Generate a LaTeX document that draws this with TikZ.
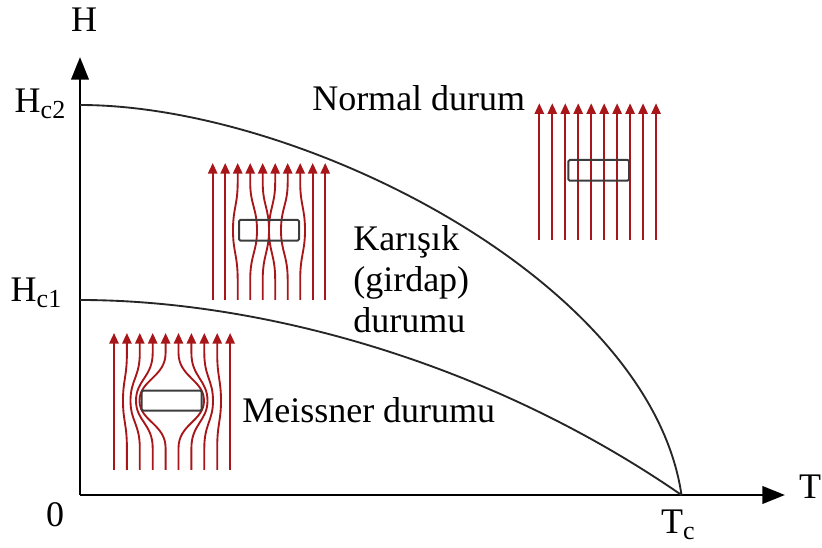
\documentclass[tikz,border=0pt]{standalone}
\usepackage{fontspec}
\setmainfont{Liberation Serif}
\usetikzlibrary{arrows.meta}
\definecolor{fluxred}{RGB}{168,22,26}
\definecolor{boxgray}{RGB}{60,60,60}
\newcommand\lowsub[1]{\raisebox{-0.35ex}{\fontsize{19.5}{19.5}\selectfont #1}}
\begin{document}
\begin{tikzpicture}[x=0.75pt,y=-0.75pt,
  lbl/.style={inner sep=0pt,font=\fontsize{27}{31}\selectfont},
  axis/.style={line width=2.2pt,black,-{Triangle[length=17pt,width=13pt]}},
  phase/.style={line width=1.4pt,black!85},
  flux/.style={line width=1.4pt,fluxred,-{Triangle[length=8pt,width=7pt]}},
  sample/.style={line width=1.5pt,boxgray,rounded corners=1pt}]
\useasboundingbox (0,0) rectangle (822,548);

% axes
\coordinate (O) at (80,495);
\coordinate (Ytip) at (80,57);
\coordinate (Xtip) at (785,495);
\coordinate (Tc) at (681.5,495);
\coordinate (Hctwo) at (80,105);
\coordinate (Hcone) at (80,300);
\draw[axis] (O) -- (Ytip);
\draw[axis] (O) -- (Xtip);

% phase boundaries Hc2(T) and Hc1(T)
\draw[phase] (Hctwo) .. controls (300,105) and (650,280) .. (Tc);
\draw[phase] (Hcone) .. controls (250,300) and (480,356) .. (Tc);

% axis labels
\node[lbl] (lH) at (84,20) {H};
\node[lbl] (lT) at (810,487) {T};
\node[lbl] (lzero) at (55,515) {0};
\node[lbl] (lHc2) at (40,104) {H\lowsub{c2}};
\node[lbl] (lHc1) at (36,293) {H\lowsub{c1}};
\node[lbl] (lTc) at (678,525) {T\lowsub{c}};

% region labels
\node[lbl,anchor=west] (lnormal) at (312,98) {Normal durum};
\node[lbl,anchor=north west,align=left] (lmixed) at (353,225) {Karışık\\(girdap)\\durumu};
\node[lbl,anchor=west] (lmeissner) at (242,410) {Meissner durumu};

% Meissner state: field expelled from the sample
\foreach \xa/\xm in {114/114,126.9/123,139.8/130.5,152.7/136,165.6/139.5,
                     178.5/204,191.4/207.5,204.3/213,217.2/221,230.1/230.1}{
  \draw[flux] (\xa,470) -- (\xa,448) .. controls (\xa,424) and (\xm,421) .. (\xm,400.7)
     .. controls (\xm,380) and (\xa,377) .. (\xa,353) -- (\xa,333);
}
\node[sample,draw,fill=white,minimum width=45pt,minimum height=15pt,inner sep=0pt] (smeissner) at (171.7,400.7) {};

% mixed (vortex) state: flux threads through the sample
\foreach \xa/\xm in {212.7/212.7,225.2/225.2,237.7/233,250.2/257,262.7/269,
                     275.2/269,287.7/281,300.2/305,312.7/312.7,325.2/325.2}{
  \draw[flux] (\xa,300) -- (\xa,280) .. controls (\xa,255) and (\xm,252) .. (\xm,230.3)
     .. controls (\xm,208) and (\xa,205) .. (\xa,182) -- (\xa,163);
}
\node[sample,draw,minimum width=45pt,minimum height=15.5pt,inner sep=0pt] (smixed) at (269,230.3) {};

% normal state: field fully penetrates
\foreach \i in {0,...,9}{
  \draw[flux] (539.3+12.97*\i,240) -- (539.3+12.97*\i,103.3);
}
\node[sample,draw,minimum width=45.5pt,minimum height=15.5pt,inner sep=0pt] (snormal) at (598.7,170.3) {};
\end{tikzpicture}
\end{document}
